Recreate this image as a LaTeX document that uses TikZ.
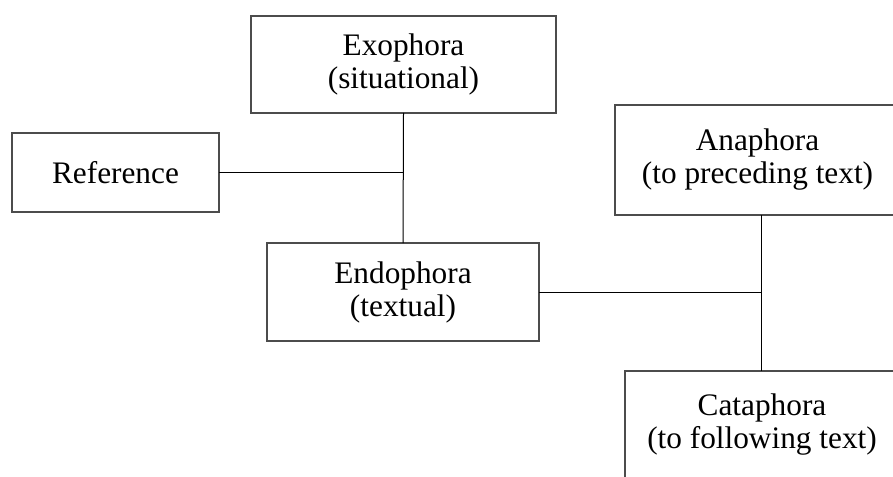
\documentclass[tikz,border=0pt]{standalone}
\usepackage{fontspec}
\setmainfont{Liberation Serif}
\begin{document}
\begin{tikzpicture}[x=1pt,y=-1pt,
  box/.style={draw=black!70, line width=1.2pt, inner sep=0pt, outer sep=0pt, align=center,
    font=\fontsize{31.3}{33}\selectfont},
  conn/.style={draw=black, line width=1pt}]
\useasboundingbox (0,0) rectangle (893,476);
\clip (0,0) rectangle (893,476);
\node[box, minimum width=305pt, minimum height=97pt] (exo) at (403.5,64.5) {Exophora\\(situational)};
\node[box, minimum width=207pt, minimum height=79pt] (ref) at (115.5,172.5) {Reference};
\node[box, minimum width=272pt, minimum height=98pt] (endo) at (403,292) {Endophora\\(textual)};
\node[box, minimum width=285pt, minimum height=110pt] (ana) at (757.5,160) {Anaphora\\(to preceding text)};
\node[box, minimum width=274pt, minimum height=108pt] (cata) at (762,425) {Cataphora\\(to following text)};
\coordinate (j) at (761,293);
\draw[conn] (exo.south) -- (endo.north);
\draw[conn] (ref.east) -- (ref.east -| exo.south);
\draw[conn] (endo.east) -- (endo.east -| j);
\draw[conn] (ana.south -| j) -- (cata.north -| j);
\end{tikzpicture}
\end{document}
